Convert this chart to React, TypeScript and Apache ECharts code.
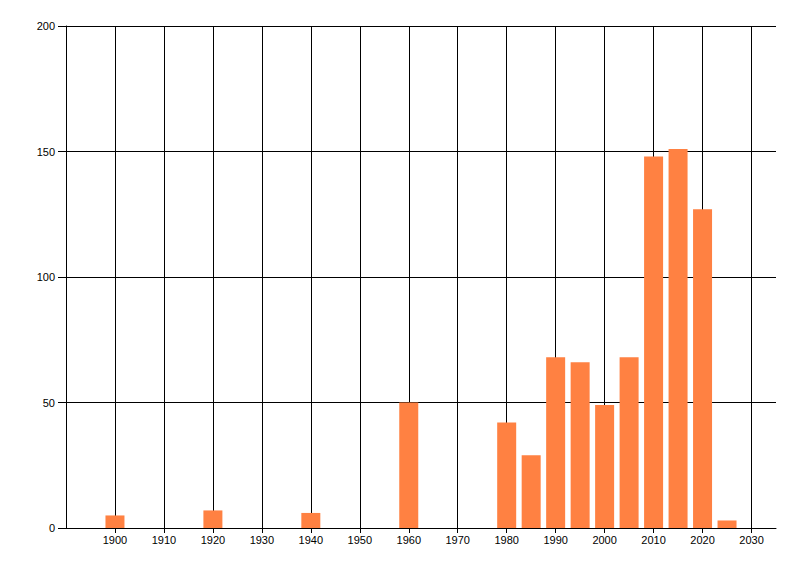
import React, { useEffect, useRef } from "react";
import * as echarts from "echarts";

const years = [1900, 1920, 1940, 1960, 1980, 1985, 1990, 1995, 2000, 2005, 2010, 2015, 2020, 2025];
const counts = [5, 7, 6, 50, 42, 29, 68, 66, 49, 68, 148, 151, 127, 3];
const xTicks = [1900, 1910, 1920, 1930, 1940, 1950, 1960, 1970, 1980, 1990, 2000, 2010, 2020, 2030];

export default function App() {
  const ref = useRef<HTMLDivElement>(null);
  useEffect(() => {
    const chart = echarts.init(ref.current!, null, { renderer: "svg" });
    const font = { fontFamily: "Liberation Sans", fontSize: 11, color: "#000" };
    chart.setOption({
      animation: false,
      backgroundColor: "#fff",
      grid: { left: 66, right: 24, top: 26, bottom: 48 },
      xAxis: {
        type: "value",
        min: 1890,
        max: 2035,
        interval: 10,
        axisLine: { show: true, onZero: false, lineStyle: { color: "#000", width: 1 } },
        axisTick: { show: true, length: 5, customValues: xTicks, lineStyle: { color: "#000" } },
        axisLabel: { ...font, margin: 6, customValues: xTicks, formatter: (v: number) => String(v) },
        splitLine: { show: true, lineStyle: { color: "#000", width: 1 } },
      },
      yAxis: {
        type: "value",
        min: 0,
        max: 200,
        interval: 50,
        axisLine: { show: true, lineStyle: { color: "#000", width: 1 } },
        axisTick: { show: true, length: 8, lineStyle: { color: "#000" } },
        axisLabel: { ...font, margin: 11 },
        splitLine: { show: true, lineStyle: { color: "#000", width: 1 } },
      },
      series: [
        {
          type: "bar",
          data: years.map((y, i) => [y, counts[i]]),
          barWidth: 19,
          itemStyle: { color: "#FF8142" },
        },
      ],
    });
    return () => chart.dispose();
  }, []);
  return (
    <div
      ref={ref}
      style={{ position: "fixed", left: 0, top: 0, width: 800, height: 576, background: "#fff" }}
    />
  );
}
